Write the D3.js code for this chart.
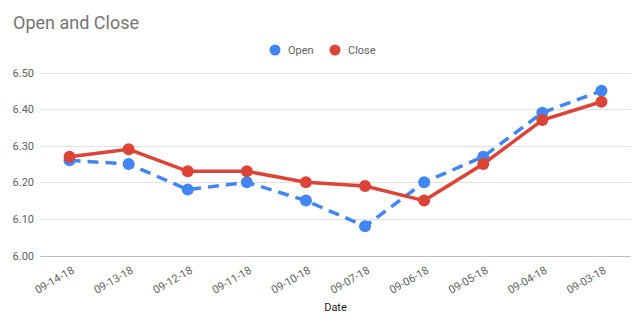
<!DOCTYPE html>
<html><head><meta charset="utf-8">
<script src="https://cdn.jsdelivr.net/npm/d3@7"></script>
<style>
html,body{margin:0;padding:0;background:#fff;}
svg text{font-family:Roboto, "Noto Sans", sans-serif;}
</style>
</head><body>
<svg id="chart" width="641" height="328"></svg>
<script>
const dates = ["09-14-18","09-13-18","09-12-18","09-11-18","09-10-18","09-07-18","09-06-18","09-05-18","09-04-18","09-03-18"];
const openValues = [6.26, 6.25, 6.18, 6.20, 6.15, 6.08, 6.20, 6.27, 6.39, 6.45];
const closeValues = [6.27, 6.29, 6.23, 6.23, 6.20, 6.19, 6.15, 6.25, 6.37, 6.42];
const yTicks = [6.00, 6.10, 6.20, 6.30, 6.40, 6.50];
const seriesNames = ["Open", "Close"];
const seriesColors = ["#4285f4", "#db4437"];

(function () {
const svg = d3.select("#chart");
const mLeft = 40, mRight = 631, mTop = 72.5, mBottom = 255.5;

const x = d3.scalePoint().domain(dates).range([mLeft, mRight]).padding(0.5);
const y = d3.scaleLinear().domain([6.0, 6.5]).range([mBottom, mTop]);

// title
svg.append("text").attr("x", 13).attr("y", 29).attr("font-size", 18).attr("fill", "#757575").text("Open and Close");

// gridlines
svg.append("g").selectAll("line").data(yTicks).join("line")
  .attr("x1", mLeft).attr("x2", mRight)
  .attr("y1", d => Math.round(y(d)) + 0.5).attr("y2", d => Math.round(y(d)) + 0.5)
  .attr("stroke", d => d === 6.0 ? "#bdbdbd" : "#e0e0e0").attr("stroke-width", 1);

// y labels
const yAxis = d3.axisLeft(y).tickValues(yTicks).tickFormat(d3.format(".2f")).tickSize(0).tickPadding(6);
const yg = svg.append("g").attr("transform", `translate(${mLeft},0)`).call(yAxis);
yg.select(".domain").remove();
yg.selectAll("text").attr("font-size", 11).attr("fill", "#616161").attr("font-family", "Roboto, sans-serif");

// x labels
const xAxis = d3.axisBottom(x).tickSize(0).tickPadding(0);
const xg = svg.append("g").attr("transform", `translate(0,${mBottom})`).call(xAxis);
xg.select(".domain").remove();
xg.selectAll(".tick text")
  .attr("font-size", 11).attr("fill", "#616161").attr("font-family", "Roboto, sans-serif")
  .attr("text-anchor", "end").attr("dy", null).attr("y", 0)
  .attr("transform", "translate(5,17) rotate(-30)");

// axis title
svg.append("text").attr("x", (mLeft + mRight) / 2).attr("y", 311).attr("text-anchor", "middle")
  .attr("font-size", 11).attr("fill", "#222").text("Date");

// lines
const series = [openValues, closeValues];
const line = d3.line().x((d, i) => x(dates[i])).y(d => y(d));
[0, 1].forEach(si => {
  svg.append("path").datum(series[si]).attr("d", line)
    .attr("fill", "none").attr("stroke", seriesColors[si]).attr("stroke-width", 3.5)
    .attr("stroke-dasharray", si === 0 ? "11,7" : null);
  svg.append("g").selectAll("circle").data(series[si]).join("circle")
    .attr("cx", (d, i) => x(dates[i])).attr("cy", d => y(d)).attr("r", 6)
    .attr("fill", seriesColors[si]);
});

// legend
const lg = svg.append("g");
const legendX = [275, 335];
seriesNames.forEach((n, i) => {
  lg.append("circle").attr("cx", legendX[i]).attr("cy", 50).attr("r", 5.5).attr("fill", seriesColors[i]);
  lg.append("text").attr("x", legendX[i] + 13).attr("y", 54).attr("font-size", 11).attr("fill", "#616161").text(n);
});
})();
</script>
</body></html>
